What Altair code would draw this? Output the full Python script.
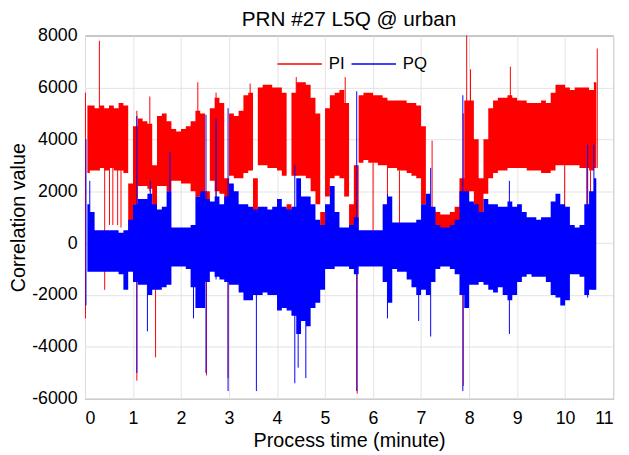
import altair as alt
import pandas as pd

# ---------------- data ----------------
t_bin = [0.05, 0.15, 0.25, 0.35, 0.45, 0.55, 0.65, 0.75, 0.85, 0.95,
         1.05, 1.15, 1.25, 1.35, 1.45, 1.55, 1.65, 1.75, 1.85, 1.95,
         2.05, 2.15, 2.25, 2.35, 2.45, 2.55, 2.65, 2.75, 2.85, 2.95,
         3.05, 3.15, 3.25, 3.35, 3.45, 3.55, 3.65, 3.75, 3.85, 3.95,
         4.05, 4.15, 4.25, 4.35, 4.45, 4.55, 4.65, 4.75, 4.85, 4.95,
         5.05, 5.15, 5.25, 5.35, 5.45, 5.55, 5.65, 5.75, 5.85, 5.95,
         6.05, 6.15, 6.25, 6.35, 6.45, 6.55, 6.65, 6.75, 6.85, 6.95,
         7.05, 7.15, 7.25, 7.35, 7.45, 7.55, 7.65, 7.75, 7.85, 7.95,
         8.05, 8.15, 8.25, 8.35, 8.45, 8.55, 8.65, 8.75, 8.85, 8.95,
         9.05, 9.15, 9.25, 9.35, 9.45, 9.55, 9.65, 9.75, 9.85, 9.95,
         10.05, 10.15, 10.25, 10.35, 10.45, 10.55, 10.65]

pi_hi = [5300, 5300, 5200, 5300, 5200, 5300, 5200, 5400, 5300, 2300,
         4500, 4800, 4700, 4600, 3000, 4900, 5000, 4700, 4400, 4300,
         4400, 4500, 4700, 5100, 5000, 2000, 5200, 5600, 5400, 2500,
         5000, 4900, 5100, 5700, 5800, 2500, 6000, 6100, 6100, 6000,
         6000, 5800, 1500, 5800, 6200, 6200, 6100, 5600, 5000, 1200,
         5200, 5700, 5800, 5900, 5400, 1500, 3000, 5700, 5800, 5800,
         5700, 5700, 5600, 5500, 5500, 5500, 5500, 5400, 5400, 5300,
         4500, 1400, 1300, 1200, 1100, 1100, 1200, 1400, 2500, 5500,
         5500, 4000, 2500, 4000, 5200, 5500, 5600, 5600, 5700, 5600,
         5500, 5500, 5400, 5400, 5400, 5500, 5400, 5800, 6100, 6100,
         6000, 5900, 6000, 6000, 6000, 5900, 6200]
pi_lo = [2700, 2800, 2800, 2900, 2800, 2900, 2800, 2800, 2700, 300,
         1500, 2200, 2200, 2100, 800, 2200, 2200, 2000, 2400, 2400,
         2300, 2300, 2000, 1800, 1700, -500, 2400, 2000, 1900, 0,
         2600, 2500, 2500, 2700, 2800, 500, 3000, 3000, 2900, 2900,
         2800, 2600, -300, 2600, 2600, 2600, 2500, 2000, 1500, -200,
         1800, 2500, 2600, 2500, 1800, 0, 200, 3100, 3200, 3100,
         3100, 3000, 3000, 2900, 2900, 2800, 2800, 2700, 2600, 2500,
         1500, 0, -100, 0, 0, 0, 0, 0, 0, 1500,
         2000, 1000, 500, 1900, 2500, 2700, 2800, 2800, 2900, 2900,
         2900, 2900, 2800, 2800, 2800, 2700, 2700, 2800, 3000, 3000,
         3000, 3000, 3000, 2900, 2900, 2800, 2900]

pq_hi = [1500, 1200, 500, 500, 500, 500, 500, 400, 500, 900,
         1500, 1700, 1700, 1900, 1500, 1300, 1400, 2000, 600, 600,
         600, 600, 700, 1800, 2000, 1700, 1600, 1800, 1500, 1800,
         2300, 2000, 1500, 1500, 1400, 1300, 1400, 1400, 1300, 1400,
         1700, 1400, 1300, 1400, 2500, 1800, 1800, 1500, 900, 700,
         1500, 2200, 1200, 600, 600, 700, 1000, 500, 500, 500,
         500, 500, 1500, 1800, 800, 800, 800, 800, 800, 900,
         1500, 1900, 1400, 700, 600, 600, 700, 900, 2000, 2000,
         1600, 1500, 1200, 1700, 1500, 1500, 1400, 1400, 1600, 1400,
         1500, 1200, 1000, 1000, 900, 1000, 1000, 1600, 1900, 1500,
         1400, 700, 600, 700, 1500, 2000, 2500]
pq_lo = [-1100, -1100, -1100, -1100, -1100, -1100, -1100, -1200, -1800, -1100,
         -1500, -1600, -1600, -2000, -1800, -1800, -1700, -1600, -900, -900,
         -900, -1000, -1700, -2500, -2500, -1500, -1100, -1300, -1400, -1500,
         -1600, -1600, -1900, -2200, -2200, -2000, -2000, -1900, -2000, -2000,
         -2600, -2500, -2600, -2800, -3500, -3000, -3200, -2500, -2300, -1800,
         -1000, -1000, -900, -900, -900, -1000, -1200, -900, -900, -900,
         -900, -900, -1500, -2300, -1000, -1100, -1100, -1400, -1700, -2000,
         -1800, -2000, -1500, -1000, -900, -900, -1000, -1200, -2000, -2500,
         -1600, -1600, -1500, -1600, -1800, -1900, -1700, -2000, -2200, -2000,
         -1500, -1300, -1200, -1300, -1300, -1300, -1500, -2000, -2100, -2400,
         -2200, -1200, -1200, -1300, -2000, -1800, -1800]

# isolated spikes (time, low end, high end)
pi_spike_t = [0.01, 0.30, 0.41, 0.51, 0.58, 0.68, 0.75, 1.08, 1.35, 1.47,
              2.35, 2.53, 2.73, 2.98, 3.44, 4.40, 5.42, 5.67, 6.00, 6.30,
              6.55, 7.23, 7.88, 7.95, 8.03, 8.86, 9.99, 10.45, 10.53, 10.67]
pi_spike_lo = [-2900, 2800, -1800, 700, 700, 700, 600, -5300, 2000, -4400,
               1800, -5100, -1300, -5200, 2800, 2600, 1800, -5800, 500, 800,
               600, 0, -5500, 1500, 2000, 2900, 900, -2000, -1500, 2900]
pi_spike_hi = [5800, 7800, 3000, 3000, 3000, 3000, 3000, 5100, 5650, 2000,
               6200, 2000, 5800, 2500, 6150, 6400, 6400, 3000, 3100, 3000,
               2800, 3950, 5000, 8000, 6700, 6800, 3000, 2900, 2800, 7500]

pq_spike_t = [0.02, 0.10, 1.08, 1.30, 1.36, 1.77, 2.26, 2.52, 2.73, 2.98,
              3.57, 4.37, 4.44, 4.60, 5.66, 6.30, 6.95, 7.20, 7.87, 8.84,
              10.47, 10.60]
pq_spike_lo = [-2400, 0, -5000, -3400, 0, 0, -2900, -5000, -1400, -5700,
               -5700, -5400, -4800, -5200, -5700, -2900, -3000, -3600, -5700, -3500,
               -2100, -1800]
pq_spike_hi = [4000, 2400, 4900, 0, 2400, 3500, 0, 4950, 4800, 5200,
               0, 3000, 0, 0, 5850, 1900, 0, 2900, 5700, 2400,
               3800, 3800]

series = ["PI", "PQ"]
colors = ["#ff0000", "#0000ff"]
x_ticks = [0, 1, 2, 3, 4, 5, 6, 7, 8, 9, 10, 11]
y_ticks = [-6000, -4000, -2000, 0, 2000, 4000, 6000, 8000]

# ---------------- tables ----------------
pi_body = pd.DataFrame({"t": t_bin, "lo": pi_lo, "hi": pi_hi, "s": "PI"})
pq_body = pd.DataFrame({"t": t_bin, "lo": pq_lo, "hi": pq_hi, "s": "PQ"})
pi_sp = pd.DataFrame({"t": pi_spike_t, "lo": pi_spike_lo, "hi": pi_spike_hi, "s": "PI"})
pq_sp = pd.DataFrame({"t": pq_spike_t, "lo": pq_spike_lo, "hi": pq_spike_hi, "s": "PQ"})

FONT = "Liberation Sans"

x_enc = alt.X("t:Q", scale=alt.Scale(domain=[0, 11], nice=False),
              axis=alt.Axis(values=x_ticks, title="Process time (minute)",
                            labelFontSize=18, titleFontSize=20, titleFontWeight="normal",
                            labelPadding=11, titlePadding=3, tickSize=0, domain=False,
                            gridColor="#e3e3e3", labelColor="#000000", titleColor="#000000",
                            labelFont=FONT, titleFont=FONT))
y_enc = alt.Y("lo:Q", scale=alt.Scale(domain=[-6000, 8000], nice=False),
              axis=alt.Axis(values=y_ticks, labelExpr="'' + datum.value",
                            title="Correlation value",
                            labelFontSize=18, titleFontSize=20, titleFontWeight="normal",
                            labelPadding=8, titlePadding=3, tickSize=0, domain=False,
                            gridColor="#e3e3e3", labelColor="#000000", titleColor="#000000",
                            labelFont=FONT, titleFont=FONT))

color_scale = alt.Scale(domain=series, range=colors)


def body(df, col):
    return alt.Chart(df).mark_area(interpolate="step", opacity=1, fill=col).encode(
        x=x_enc, y=y_enc, y2="hi:Q")


def spikes(df):
    return alt.Chart(df).mark_rule(strokeWidth=1).encode(
        x=x_enc, y=y_enc, y2="hi:Q",
        stroke=alt.Stroke("s:N", scale=color_scale,
                          legend=alt.Legend(title=None, orient="none", legendX=194, legendY=5,
                                            direction="horizontal", columns=2,
                                            symbolType="stroke", symbolSize=2025,
                                            symbolStrokeWidth=1.5, labelFontSize=17,
                                            labelFont=FONT, labelColor="#000000",
                                            labelOffset=6, columnPadding=3)))


chart = alt.layer(
    body(pi_body, colors[0]), spikes(pi_sp), body(pq_body, colors[1]), spikes(pq_sp)
).properties(
    width=535, height=368,
    title=alt.Title("PRN #27 L5Q @ urban", fontSize=21, fontWeight="normal",
                    font=FONT, color="#000000", offset=-3, frame="group"),
    autosize="none",
    padding={"left": 78, "top": 25, "right": 8, "bottom": 54},
).configure_view(stroke="#555555", strokeWidth=1)

chart.save("out.html", embed_options={"renderer": "svg", "actions": False})
